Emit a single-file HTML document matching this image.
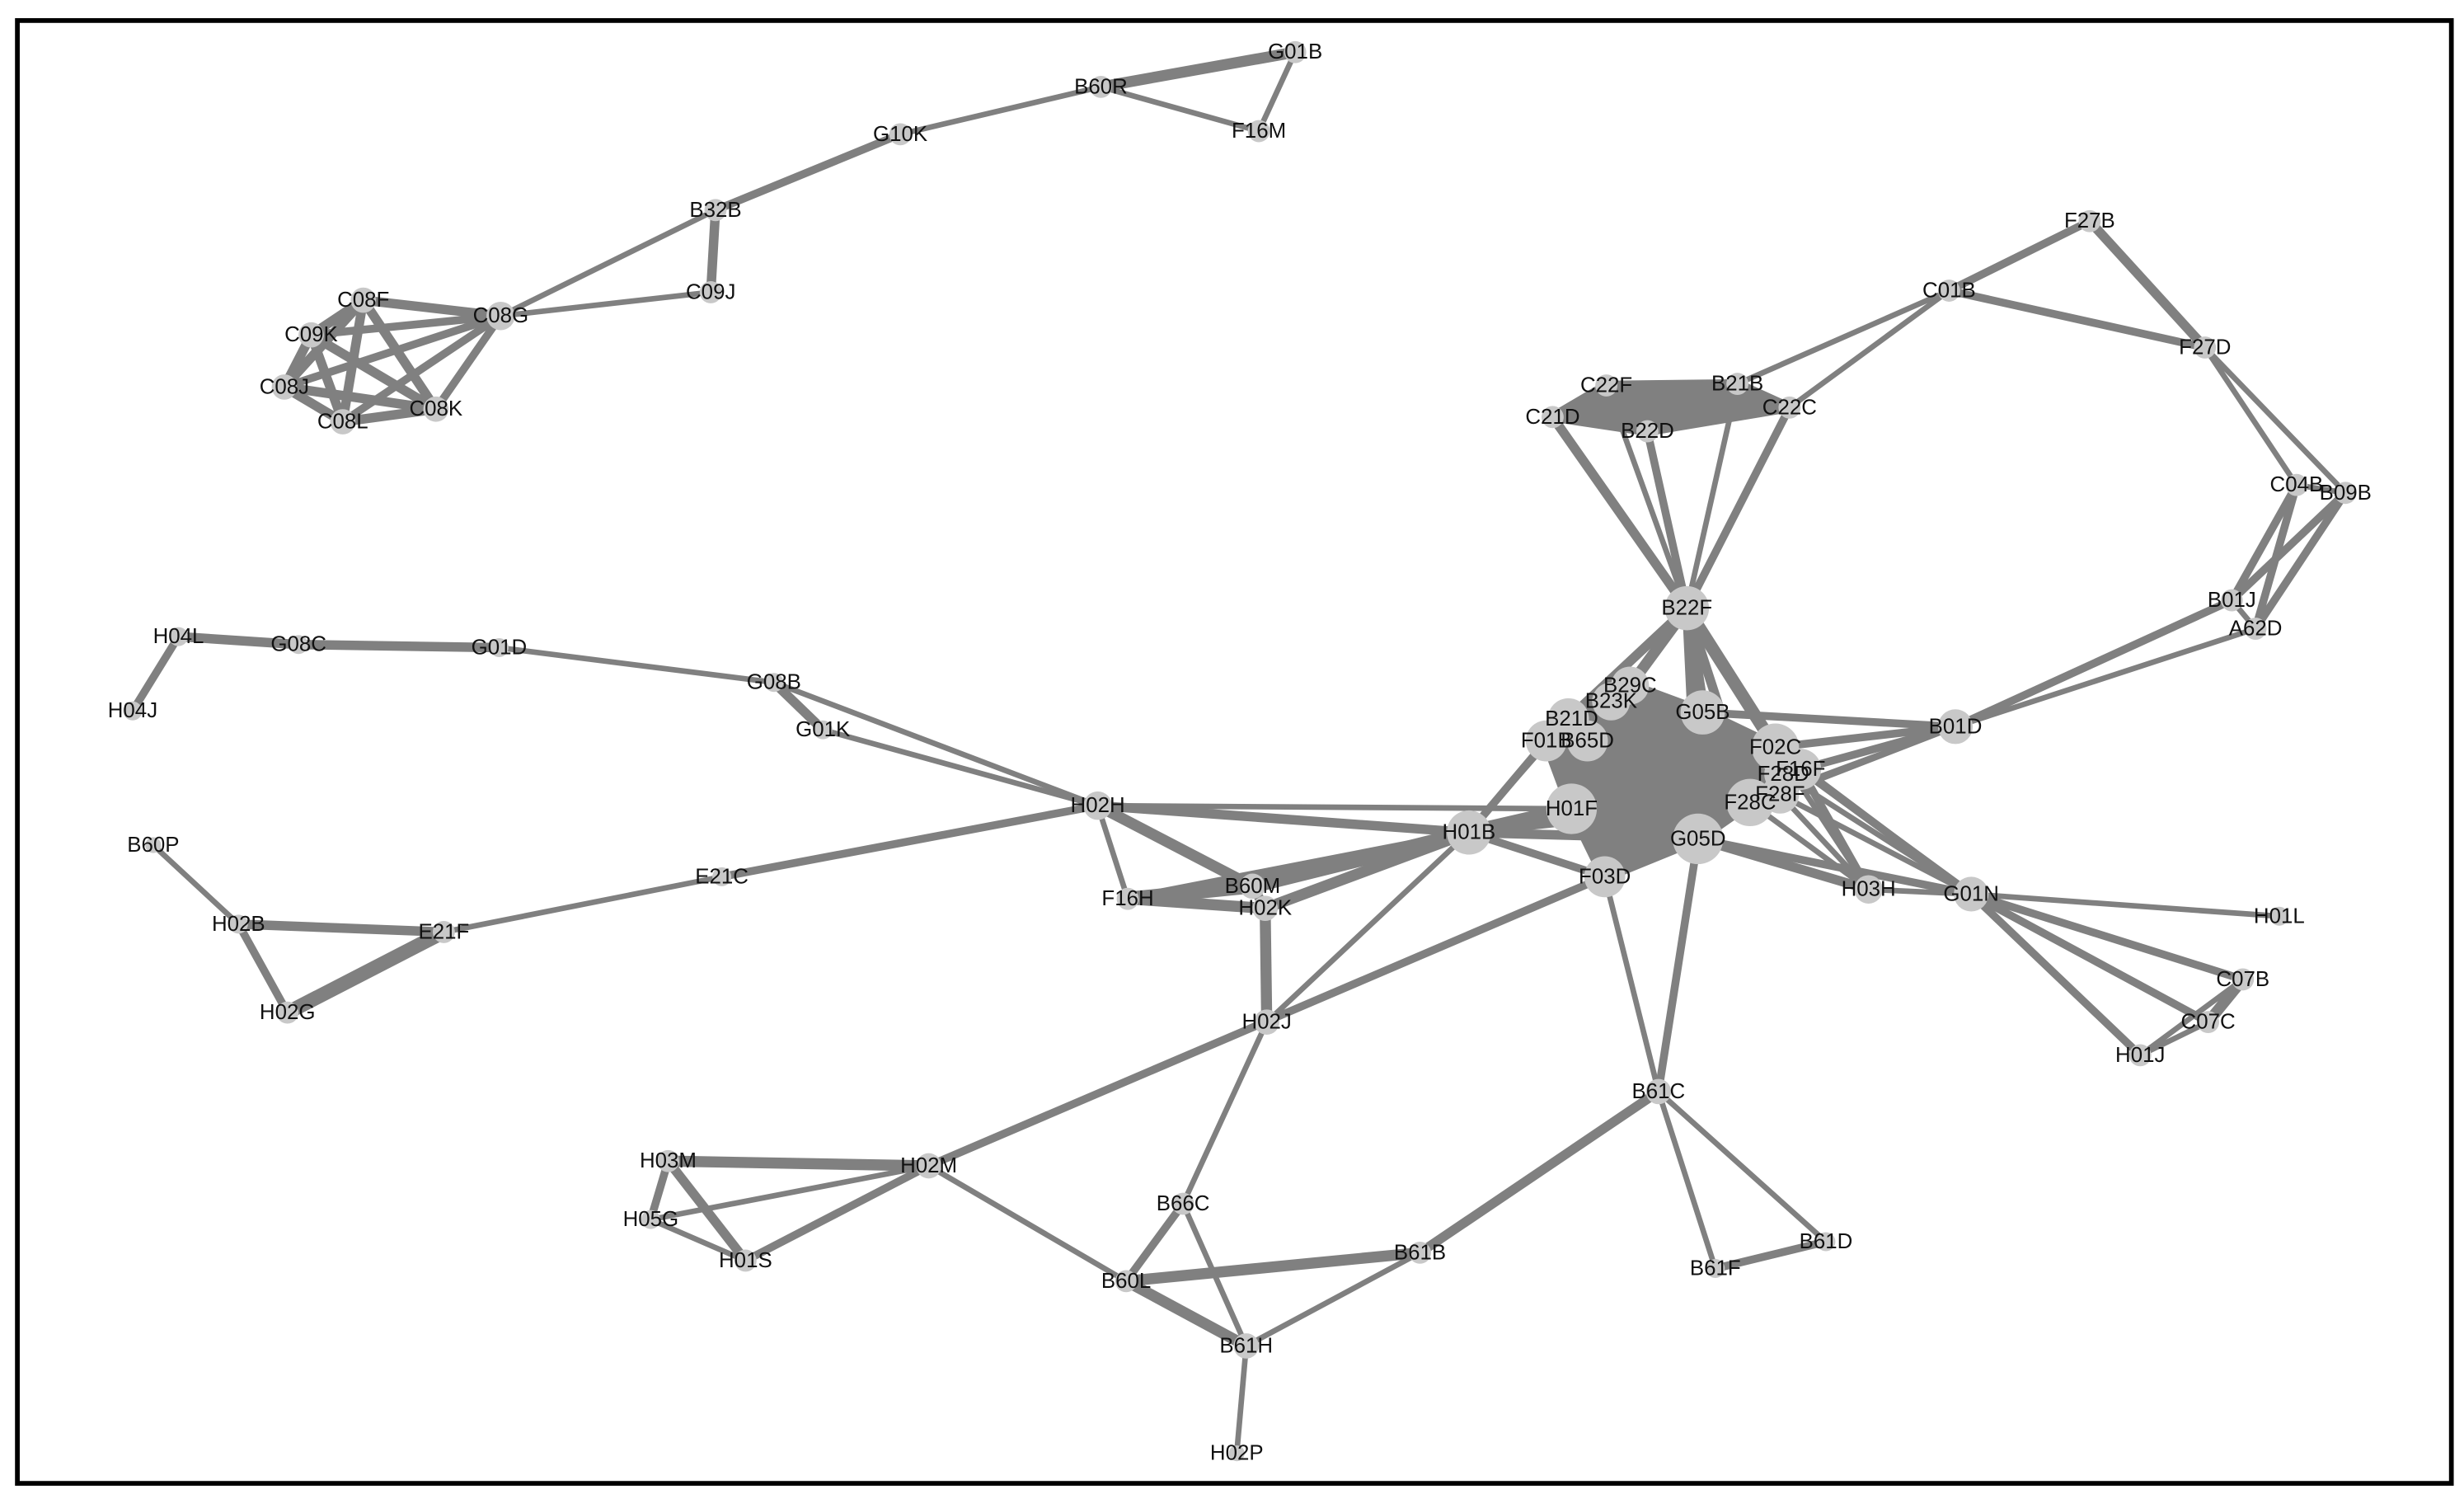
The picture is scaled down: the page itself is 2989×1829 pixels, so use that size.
<!DOCTYPE html>
<html><head><meta charset="utf-8"><style>
html,body{margin:0;padding:0;background:#fff;}
svg{display:block;}
text{font-family:"Liberation Sans",Arial,sans-serif;font-size:13.5px;fill:#111;text-anchor:middle;dominant-baseline:central;}
</style></head><body>
<svg width="2989" height="1829" viewBox="0 0 1560 954.6" preserveAspectRatio="none" xmlns="http://www.w3.org/2000/svg">
<rect x="0" y="0" width="1560" height="955" fill="#fff"/>
<rect x="11" y="13" width="1541" height="926" fill="none" stroke="#000" stroke-width="3"/>
<g stroke="#808080" stroke-linecap="round" fill="none">
<line x1="697" y1="55" x2="820" y2="33" stroke-width="7"/>
<line x1="697" y1="55" x2="797" y2="83" stroke-width="3.5"/>
<line x1="797" y1="83" x2="820" y2="33" stroke-width="3.5"/>
<line x1="697" y1="55" x2="570" y2="85" stroke-width="3.5"/>
<line x1="570" y1="85" x2="453" y2="133" stroke-width="5"/>
<line x1="453" y1="133" x2="450" y2="185" stroke-width="6"/>
<line x1="453" y1="133" x2="317" y2="200" stroke-width="3.5"/>
<line x1="450" y1="185" x2="317" y2="200" stroke-width="3.5"/>
<line x1="317" y1="200" x2="230" y2="190" stroke-width="6"/>
<line x1="317" y1="200" x2="197" y2="212" stroke-width="5"/>
<line x1="317" y1="200" x2="180" y2="245" stroke-width="5"/>
<line x1="317" y1="200" x2="217" y2="267" stroke-width="5"/>
<line x1="317" y1="200" x2="276" y2="259" stroke-width="5"/>
<line x1="230" y1="190" x2="197" y2="212" stroke-width="6"/>
<line x1="230" y1="190" x2="180" y2="245" stroke-width="6"/>
<line x1="230" y1="190" x2="217" y2="267" stroke-width="6"/>
<line x1="230" y1="190" x2="276" y2="259" stroke-width="6"/>
<line x1="197" y1="212" x2="180" y2="245" stroke-width="6"/>
<line x1="197" y1="212" x2="217" y2="267" stroke-width="6"/>
<line x1="197" y1="212" x2="276" y2="259" stroke-width="6"/>
<line x1="180" y1="245" x2="217" y2="267" stroke-width="6"/>
<line x1="180" y1="245" x2="276" y2="259" stroke-width="6"/>
<line x1="217" y1="267" x2="276" y2="259" stroke-width="6"/>
<line x1="1323" y1="140" x2="1234" y2="184" stroke-width="5"/>
<line x1="1323" y1="140" x2="1396" y2="220" stroke-width="6"/>
<line x1="1234" y1="184" x2="1396" y2="220" stroke-width="5"/>
<line x1="1234" y1="184" x2="1133" y2="258" stroke-width="3.5"/>
<line x1="1234" y1="184" x2="1100" y2="243" stroke-width="3.5"/>
<line x1="1396" y1="220" x2="1454" y2="307" stroke-width="3.5"/>
<line x1="1396" y1="220" x2="1485" y2="312" stroke-width="3.5"/>
<line x1="1454" y1="307" x2="1485" y2="312" stroke-width="3.5"/>
<line x1="1454" y1="307" x2="1413" y2="380" stroke-width="5"/>
<line x1="1454" y1="307" x2="1428" y2="398" stroke-width="5"/>
<line x1="1485" y1="312" x2="1413" y2="380" stroke-width="5"/>
<line x1="1485" y1="312" x2="1428" y2="398" stroke-width="5"/>
<line x1="1413" y1="380" x2="1428" y2="398" stroke-width="3.5"/>
<line x1="1413" y1="380" x2="1238" y2="460" stroke-width="5"/>
<line x1="1428" y1="398" x2="1238" y2="460" stroke-width="3.5"/>
<polygon points="1017,244 1100,243 1133,258 1043,273 983,264" fill="#808080" stroke-width="6" stroke-linejoin="round"/>
<line x1="983" y1="264" x2="1068" y2="385" stroke-width="6"/>
<line x1="1017" y1="244" x2="1068" y2="385" stroke-width="3.5"/>
<line x1="1043" y1="273" x2="1068" y2="385" stroke-width="5"/>
<line x1="1100" y1="243" x2="1068" y2="385" stroke-width="3.5"/>
<line x1="1133" y1="258" x2="1068" y2="385" stroke-width="5"/>
<line x1="1068" y1="385" x2="1032" y2="434" stroke-width="7"/>
<line x1="1068" y1="385" x2="1078" y2="451" stroke-width="8"/>
<line x1="1068" y1="385" x2="1124" y2="473" stroke-width="8"/>
<line x1="1068" y1="385" x2="1108" y2="508" stroke-width="6"/>
<line x1="1068" y1="385" x2="993" y2="455" stroke-width="6"/>
<line x1="1068" y1="385" x2="1075" y2="531" stroke-width="6"/>
<line x1="113" y1="403" x2="189" y2="408" stroke-width="6"/>
<line x1="113" y1="403" x2="84" y2="450" stroke-width="5"/>
<line x1="189" y1="408" x2="316" y2="410" stroke-width="6"/>
<line x1="316" y1="410" x2="490" y2="432" stroke-width="3.5"/>
<line x1="490" y1="432" x2="521" y2="462" stroke-width="6"/>
<line x1="490" y1="432" x2="695" y2="510" stroke-width="3.5"/>
<line x1="521" y1="462" x2="695" y2="510" stroke-width="3.5"/>
<polygon points="1032,434 1078,451 1124,473 1140,487 1127,503 1108,508 1075,531 1016,555 995,512 979,469 993,455 1020,444" fill="#808080" stroke-width="7" stroke-linejoin="round"/>
<line x1="979" y1="469" x2="930" y2="527" stroke-width="5"/>
<line x1="993" y1="455" x2="930" y2="527" stroke-width="3.5"/>
<line x1="995" y1="512" x2="930" y2="527" stroke-width="9"/>
<line x1="1075" y1="531" x2="930" y2="527" stroke-width="6"/>
<line x1="1016" y1="555" x2="930" y2="527" stroke-width="5"/>
<line x1="1108" y1="508" x2="930" y2="527" stroke-width="5"/>
<line x1="1124" y1="473" x2="930" y2="527" stroke-width="3.5"/>
<line x1="1078" y1="451" x2="1238" y2="460" stroke-width="5"/>
<line x1="1124" y1="473" x2="1238" y2="460" stroke-width="5"/>
<line x1="1140" y1="487" x2="1238" y2="460" stroke-width="5"/>
<line x1="1127" y1="503" x2="1238" y2="460" stroke-width="3.5"/>
<line x1="1108" y1="508" x2="1238" y2="460" stroke-width="3.5"/>
<line x1="1124" y1="473" x2="1183" y2="563" stroke-width="3.5"/>
<line x1="1140" y1="487" x2="1183" y2="563" stroke-width="5"/>
<line x1="1127" y1="503" x2="1183" y2="563" stroke-width="3.5"/>
<line x1="1075" y1="531" x2="1183" y2="563" stroke-width="6"/>
<line x1="1108" y1="508" x2="1183" y2="563" stroke-width="3.5"/>
<line x1="1124" y1="473" x2="1248" y2="566" stroke-width="3.5"/>
<line x1="1140" y1="487" x2="1248" y2="566" stroke-width="5"/>
<line x1="1129" y1="490" x2="1248" y2="566" stroke-width="3.5"/>
<line x1="1127" y1="503" x2="1248" y2="566" stroke-width="3.5"/>
<line x1="1075" y1="531" x2="1248" y2="566" stroke-width="5"/>
<line x1="1183" y1="563" x2="1248" y2="566" stroke-width="3.5"/>
<line x1="1248" y1="566" x2="1443" y2="580" stroke-width="3.5"/>
<line x1="1248" y1="566" x2="1420" y2="620" stroke-width="5"/>
<line x1="1248" y1="566" x2="1398" y2="647" stroke-width="5"/>
<line x1="1248" y1="566" x2="1355" y2="668" stroke-width="5"/>
<line x1="1420" y1="620" x2="1398" y2="647" stroke-width="7"/>
<line x1="1355" y1="668" x2="1398" y2="647" stroke-width="3.5"/>
<line x1="1355" y1="668" x2="1420" y2="620" stroke-width="3.5"/>
<line x1="695" y1="510" x2="930" y2="527" stroke-width="6"/>
<line x1="695" y1="510" x2="995" y2="512" stroke-width="3.5"/>
<line x1="695" y1="510" x2="714" y2="569" stroke-width="3.5"/>
<line x1="695" y1="510" x2="793" y2="561" stroke-width="7"/>
<line x1="695" y1="510" x2="457" y2="555" stroke-width="5"/>
<line x1="457" y1="555" x2="281" y2="590" stroke-width="3.5"/>
<line x1="930" y1="527" x2="793" y2="561" stroke-width="9"/>
<line x1="930" y1="527" x2="714" y2="569" stroke-width="5"/>
<line x1="930" y1="527" x2="801" y2="575" stroke-width="7"/>
<line x1="930" y1="527" x2="802" y2="647" stroke-width="3.5"/>
<line x1="793" y1="561" x2="714" y2="569" stroke-width="9"/>
<line x1="793" y1="561" x2="801" y2="575" stroke-width="6"/>
<line x1="714" y1="569" x2="801" y2="575" stroke-width="7"/>
<line x1="801" y1="575" x2="802" y2="647" stroke-width="7"/>
<line x1="802" y1="647" x2="1016" y2="555" stroke-width="3.5"/>
<line x1="802" y1="647" x2="749" y2="762" stroke-width="3.5"/>
<line x1="97" y1="535" x2="151" y2="585" stroke-width="3.5"/>
<line x1="151" y1="585" x2="281" y2="590" stroke-width="6"/>
<line x1="151" y1="585" x2="182" y2="641" stroke-width="5"/>
<line x1="182" y1="641" x2="281" y2="590" stroke-width="9"/>
<line x1="588" y1="738" x2="1016" y2="555" stroke-width="5"/>
<line x1="588" y1="738" x2="423" y2="735" stroke-width="7"/>
<line x1="588" y1="738" x2="412" y2="772" stroke-width="3.5"/>
<line x1="588" y1="738" x2="472" y2="798" stroke-width="5"/>
<line x1="423" y1="735" x2="412" y2="772" stroke-width="5"/>
<line x1="423" y1="735" x2="472" y2="798" stroke-width="6"/>
<line x1="412" y1="772" x2="472" y2="798" stroke-width="3.5"/>
<line x1="588" y1="738" x2="713" y2="811" stroke-width="3.5"/>
<line x1="1050" y1="691" x2="1075" y2="531" stroke-width="5"/>
<line x1="1050" y1="691" x2="1016" y2="555" stroke-width="3.5"/>
<line x1="1050" y1="691" x2="899" y2="793" stroke-width="6"/>
<line x1="1050" y1="691" x2="1086" y2="803" stroke-width="3.5"/>
<line x1="1050" y1="691" x2="1156" y2="786" stroke-width="3.5"/>
<line x1="1086" y1="803" x2="1156" y2="786" stroke-width="5"/>
<line x1="749" y1="762" x2="713" y2="811" stroke-width="5"/>
<line x1="749" y1="762" x2="789" y2="852" stroke-width="3.5"/>
<line x1="713" y1="811" x2="899" y2="793" stroke-width="7"/>
<line x1="713" y1="811" x2="789" y2="852" stroke-width="7"/>
<line x1="899" y1="793" x2="789" y2="852" stroke-width="3.5"/>
<line x1="789" y1="852" x2="783" y2="920" stroke-width="3.5"/>
</g>
<g fill="#c8c8c8">
<circle cx="820" cy="33" r="7"/><circle cx="697" cy="55" r="7"/><circle cx="797" cy="83" r="7"/><circle cx="570" cy="85" r="7"/>
<circle cx="453" cy="133" r="7"/><circle cx="450" cy="185" r="7"/><circle cx="317" cy="200" r="9"/><circle cx="230" cy="190" r="8"/>
<circle cx="197" cy="212" r="8"/><circle cx="180" cy="245" r="8"/><circle cx="217" cy="267" r="8"/><circle cx="276" cy="259" r="8"/>
<circle cx="1323" cy="140" r="7"/><circle cx="1234" cy="184" r="7"/><circle cx="1396" cy="220" r="7"/>
<circle cx="1017" cy="244" r="7"/><circle cx="1100" cy="243" r="7"/><circle cx="1133" cy="258" r="7"/><circle cx="983" cy="264" r="7"/><circle cx="1043" cy="273" r="7"/>
<circle cx="1454" cy="307" r="7"/><circle cx="1485" cy="312" r="7"/><circle cx="1413" cy="380" r="7"/><circle cx="1428" cy="398" r="7"/>
<circle cx="1068" cy="385" r="14"/>
<circle cx="113" cy="403" r="6"/><circle cx="189" cy="408" r="6"/><circle cx="316" cy="410" r="6"/><circle cx="84" cy="450" r="6"/><circle cx="490" cy="432" r="6"/><circle cx="521" cy="462" r="6"/>
<circle cx="1032" cy="434" r="12"/><circle cx="1020" cy="444" r="12"/><circle cx="993" cy="455" r="13"/><circle cx="1078" cy="451" r="14"/>
<circle cx="979" cy="469" r="13"/><circle cx="1005" cy="469" r="13"/><circle cx="1124" cy="473" r="15"/><circle cx="1140" cy="487" r="13"/>
<circle cx="1129" cy="490" r="12"/><circle cx="1127" cy="503" r="12"/><circle cx="1108" cy="508" r="15"/><circle cx="995" cy="512" r="16"/>
<circle cx="1075" cy="531" r="16"/><circle cx="1016" cy="555" r="13"/><circle cx="1238" cy="460" r="11"/><circle cx="1183" cy="563" r="9"/>
<circle cx="1248" cy="566" r="11"/><circle cx="1443" cy="580" r="6"/><circle cx="1420" cy="620" r="7"/><circle cx="1398" cy="647" r="7"/><circle cx="1355" cy="668" r="7"/>
<circle cx="695" cy="510" r="9"/><circle cx="930" cy="527" r="14"/><circle cx="793" cy="561" r="8"/><circle cx="714" cy="569" r="7"/><circle cx="801" cy="575" r="8"/>
<circle cx="457" cy="555" r="6"/><circle cx="97" cy="535" r="5"/><circle cx="151" cy="585" r="6"/><circle cx="281" cy="590" r="7"/><circle cx="182" cy="641" r="7"/>
<circle cx="802" cy="647" r="8"/><circle cx="1050" cy="691" r="8"/><circle cx="423" cy="735" r="7"/><circle cx="588" cy="738" r="8"/><circle cx="412" cy="772" r="6"/><circle cx="472" cy="798" r="7"/>
<circle cx="749" cy="762" r="7"/><circle cx="899" cy="793" r="7"/><circle cx="713" cy="811" r="7"/><circle cx="1086" cy="803" r="6"/><circle cx="1156" cy="786" r="6"/>
<circle cx="789" cy="852" r="8"/><circle cx="783" cy="920" r="5"/>
</g>
<g>
<text x="820" y="33">G01B</text><text x="697" y="55">B60R</text><text x="797" y="83">F16M</text><text x="570" y="85">G10K</text>
<text x="453" y="133">B32B</text><text x="450" y="185">C09J</text><text x="317" y="200">C08G</text><text x="230" y="190">C08F</text>
<text x="197" y="212">C09K</text><text x="180" y="245">C08J</text><text x="217" y="267">C08L</text><text x="276" y="259">C08K</text>
<text x="1323" y="140">F27B</text><text x="1234" y="184">C01B</text><text x="1396" y="220">F27D</text>
<text x="1017" y="244">C22F</text><text x="1100" y="243">B21B</text><text x="1133" y="258">C22C</text><text x="983" y="264">C21D</text><text x="1043" y="273">B22D</text>
<text x="1454" y="307">C04B</text><text x="1485" y="312">B09B</text><text x="1413" y="380">B01J</text><text x="1428" y="398">A62D</text>
<text x="1068" y="385">B22F</text>
<text x="113" y="403">H04L</text><text x="189" y="408">G08C</text><text x="316" y="410">G01D</text><text x="84" y="450">H04J</text><text x="490" y="432">G08B</text><text x="521" y="462">G01K</text>
<text x="1032" y="434">B29C</text><text x="1020" y="444">B23K</text><text x="995" y="455">B21D</text><text x="1078" y="451">G05B</text>
<text x="979" y="469">F01B</text><text x="1005" y="469">B65D</text><text x="1124" y="473">F02C</text><text x="1140" y="487">F16F</text>
<text x="1129" y="490">F28D</text><text x="1127" y="503">F28F</text><text x="1108" y="508">F28C</text><text x="995" y="512">H01F</text>
<text x="1075" y="531">G05D</text><text x="1016" y="555">F03D</text><text x="1238" y="460">B01D</text><text x="1183" y="563">H03H</text>
<text x="1248" y="566">G01N</text><text x="1443" y="580">H01L</text><text x="1420" y="620">C07B</text><text x="1398" y="647">C07C</text><text x="1355" y="668">H01J</text>
<text x="695" y="510">H02H</text><text x="930" y="527">H01B</text><text x="793" y="561">B60M</text><text x="714" y="569">F16H</text><text x="801" y="575">H02K</text>
<text x="457" y="555">E21C</text><text x="97" y="535">B60P</text><text x="151" y="585">H02B</text><text x="281" y="590">E21F</text><text x="182" y="641">H02G</text>
<text x="802" y="647">H02J</text><text x="1050" y="691">B61C</text><text x="423" y="735">H03M</text><text x="588" y="738">H02M</text><text x="412" y="772">H05G</text><text x="472" y="798">H01S</text>
<text x="749" y="762">B66C</text><text x="899" y="793">B61B</text><text x="713" y="811">B60L</text><text x="1086" y="803">B61F</text><text x="1156" y="786">B61D</text>
<text x="789" y="852">B61H</text><text x="783" y="920">H02P</text>
</g>
</svg>
</body></html>
